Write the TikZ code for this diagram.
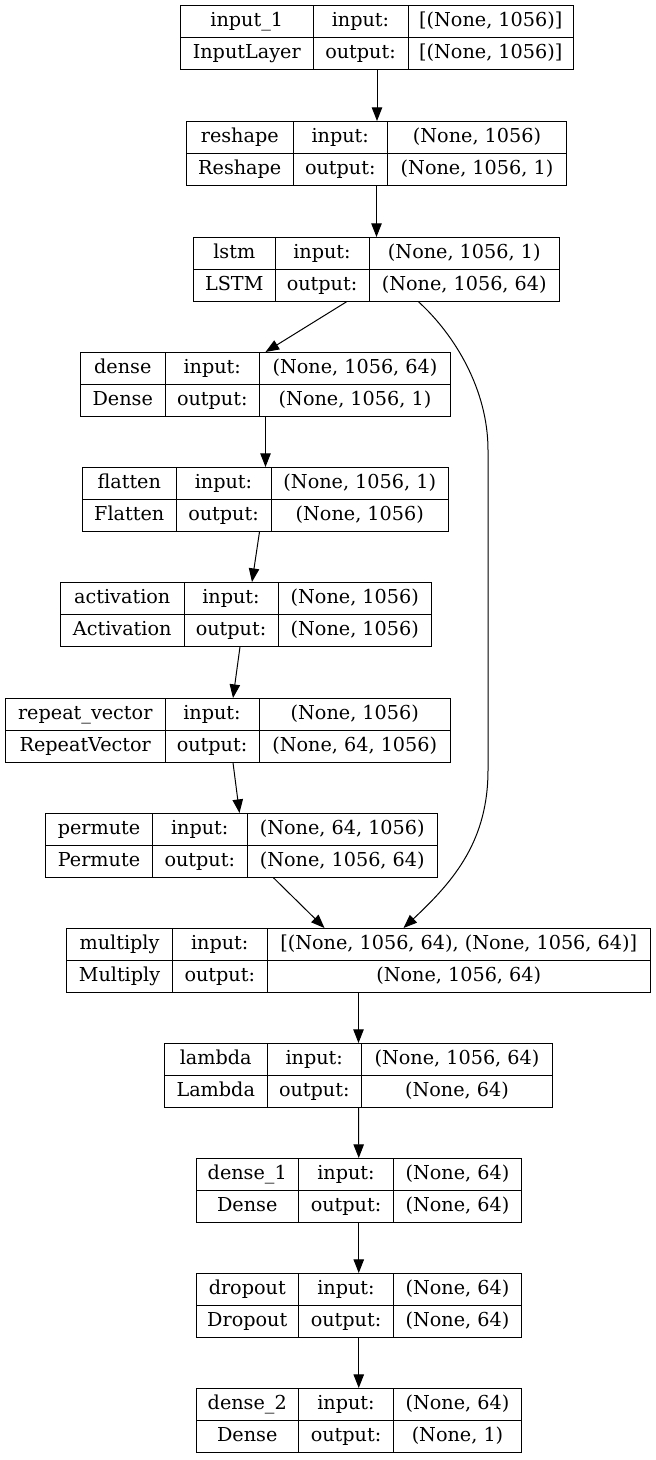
\documentclass[tikz,border=0pt]{standalone}
\usepackage{fontspec}
\setmainfont{DejaVu Serif}
\usepackage{tikz}
\usetikzlibrary{arrows.meta, positioning}

\newlength{\kpx}
\setlength{\kpx}{0.5pt}
\newcommand{\kstrut}{\rule[-5.4pt]{0pt}{15.7pt}}
% one layer: widths of the three columns, name, class, input shape, output shape
\newcommand{\kcells}[7]{%
  \setlength{\tabcolsep}{0pt}\setlength{\arrayrulewidth}{0.5pt}%
  \begin{tabular}{@{}c|c|c@{}}
    \kstrut\makebox[#1\kpx]{#4} & \makebox[\dimexpr#2\kpx+1\kpx\relax]{input:} & \makebox[\dimexpr#3\kpx+1\kpx\relax]{#6}\\ \hline
    \kstrut\makebox[#1\kpx]{#5} & \makebox[\dimexpr#2\kpx+1\kpx\relax]{output:} & \makebox[\dimexpr#3\kpx+1\kpx\relax]{#7}
  \end{tabular}}

\begin{document}
\begin{tikzpicture}[x=0.5pt, y=-0.5pt, line width=0.5pt,
  kbox/.style={draw, inner sep=0pt, anchor=north west, font=\fontsize{9.6}{11}\selectfont},
  flow/.style={-{Triangle[length=6.8pt, width=5.2pt]}, line width=0.5pt}
]
\path[use as bounding box, fill=white] (0,0) rectangle (656,1460);

% Layers, top to bottom
\node[kbox] (in1)     at (180,5)    {\kcells{132.5}{94}{164.5}{input\_1}{InputLayer}{[(None, 1056)]}{[(None, 1056)]}};
\node[kbox] (reshape) at (186,121)  {\kcells{106.5}{93.5}{178}{reshape}{Reshape}{(None, 1056)}{(None, 1056, 1)}};
\node[kbox] (lstm)    at (193,237)  {\kcells{81.5}{93}{189.5}{lstm}{LSTM}{(None, 1056, 1)}{(None, 1056, 64)}};
\node[kbox] (dense)   at (80,352)   {\kcells{84.5}{93.5}{190}{dense}{Dense}{(None, 1056, 64)}{(None, 1056, 1)}};
\node[kbox] (flatten) at (82,467)   {\kcells{93.5}{94}{176.5}{flatten}{Flatten}{(None, 1056, 1)}{(None, 1056)}};
\node[kbox] (act)     at (60,582)   {\kcells{123.5}{93}{152.5}{activation}{Activation}{(None, 1056)}{(None, 1056)}};
\node[kbox] (repeat)  at (5,698)    {\kcells{159.5}{93}{190.5}{repeat\_vector}{RepeatVector}{(None, 1056)}{(None, 64, 1056)}};
\node[kbox] (permute) at (45,813)   {\kcells{107}{93.5}{189.5}{permute}{Permute}{(None, 64, 1056)}{(None, 1056, 64)}};
\node[kbox] (mul)     at (66,928)   {\kcells{106}{93.5}{382.5}{multiply}{Multiply}{[(None, 1056, 64), (None, 1056, 64)]}{(None, 1056, 64)}};
\node[kbox] (lambda)  at (164,1043) {\kcells{102.5}{93.5}{190}{lambda}{Lambda}{(None, 1056, 64)}{(None, 64)}};
\node[kbox] (dense1)  at (195.5,1158) {\kcells{102.5}{94}{127}{dense\_1}{Dense}{(None, 64)}{(None, 64)}};
\node[kbox] (dropout) at (195.5,1273) {\kcells{102.5}{94}{127}{dropout}{Dropout}{(None, 64)}{(None, 64)}};
\node[kbox] (dense2)  at (195.5,1388) {\kcells{102.5}{94}{127}{dense\_2}{Dense}{(None, 64)}{(None, 1)}};

% Main chain
\draw[flow] (in1.south) -- (in1.south |- reshape.north);
\draw[flow] (reshape.south) -- (lstm.north);
\draw[flow] ([xshift=-15pt]lstm.south) -- (dense.north);
\draw[flow] (dense.south) -- (flatten.north);
\draw[flow] ([xshift=-3pt]flatten.south) -- ([xshift=3pt]act.north);
\draw[flow] ([xshift=-3pt]act.south) -- ([xshift=2.5pt]repeat.north);
\draw[flow] ([xshift=2.5pt]repeat.south) -- ([xshift=-1pt]permute.north);
\draw[flow] ([xshift=16pt]permute.south) -- ([xshift=-17pt]mul.north);
\draw[flow] (mul.south) -- (lambda.north);
\draw[flow] (lambda.south) -- (dense1.north);
\draw[flow] (dense1.south) -- (dropout.north);
\draw[flow] (dropout.south) -- (dense2.north);

% Skip connection lstm -> multiply
\draw[flow] ([xshift=21pt]lstm.south) .. controls (455,335) and (488,390) .. (488,450)
  -- (488,770) .. controls (488,840) and (455,880) .. ([xshift=22.5pt]mul.north);

\end{tikzpicture}
\end{document}
